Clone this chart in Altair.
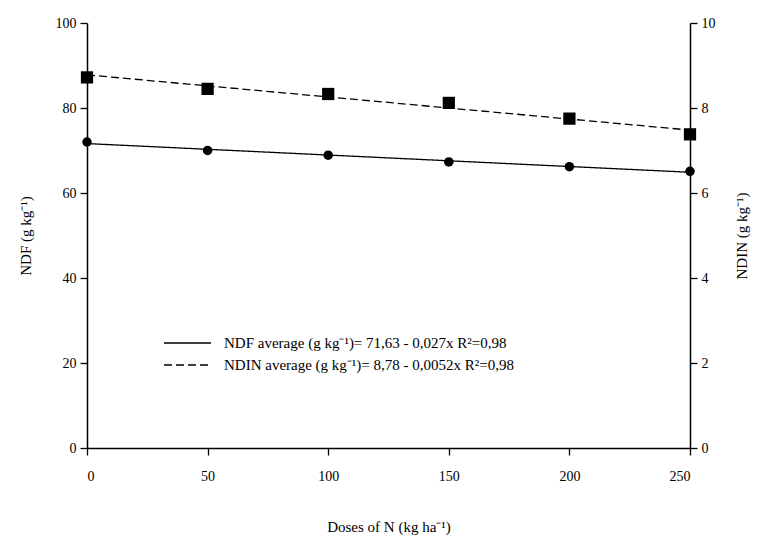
import altair as alt
import pandas as pd

doses = [0, 50, 100, 150, 200, 250]
ndf_obs = [72.0, 70.0, 68.9, 67.3, 66.2, 65.1]
ndin_obs = [8.72, 8.45, 8.33, 8.12, 7.75, 7.38]

fit_x = [0, 250]
ndf_fit = [71.63, 64.88]
ndin_fit = [8.78, 7.48]

lab_ndf = "NDF average (g kg\u207b\u00b9)= 71,63 - 0,027x  R\u00b2=0,98"
lab_ndin = "NDIN average (g kg\u207b\u00b9)= 8,78 - 0,0052x  R\u00b2=0,98"
labels = [lab_ndf, lab_ndin]

left_ticks = [0, 20, 40, 60, 80, 100]
right_ticks = [0, 2, 4, 6, 8, 10]

obs = pd.DataFrame({"dose": doses, "ndf": ndf_obs, "ndin": ndin_obs})
fit_ndf_df = pd.DataFrame({"dose": fit_x, "ndf": ndf_fit, "series": lab_ndf})
fit_ndin_df = pd.DataFrame({"dose": fit_x, "ndin": ndin_fit, "series": lab_ndin})

FONT = "Liberation Serif"

xenc = alt.X(
    "dose:Q",
    scale=alt.Scale(domain=[0, 250], nice=False),
    axis=alt.Axis(values=doses, title="Doses of N (kg ha\u207b\u00b9)", grid=False,
                  labelPadding=14, titlePadding=36),
)

dash = alt.StrokeDash(
    "series:N",
    scale=alt.Scale(domain=labels, range=[[1, 0], [8, 4]]),
    legend=alt.Legend(
        title=None, orient="none", legendX=76, legendY=311,
        symbolType="stroke", symbolSize=2209, symbolStrokeWidth=1.3,
        symbolStrokeColor="black", labelFont=FONT, labelFontSize=15,
        labelColor="black", labelOffset=12, rowPadding=4, clipHeight=18,
        labelLimit=600,
    ),
)

left_axis = alt.Axis(values=left_ticks, title="NDF (g kg\u207b\u00b9)",
                     grid=False, orient="left", titlePadding=22)
right_axis = alt.Axis(values=right_ticks, title="NDIN (g kg\u207b\u00b9)",
                      grid=False, orient="right", titlePadding=34, titleAngle=270)

yl = alt.Y("ndf:Q", scale=alt.Scale(domain=[0, 100], nice=False), axis=left_axis)
yr = alt.Y("ndin:Q", scale=alt.Scale(domain=[0, 10], nice=False), axis=right_axis)

left = alt.layer(
    alt.Chart(fit_ndf_df).mark_line(color="black", strokeWidth=1.3).encode(x=xenc, y=yl, strokeDash=dash),
    alt.Chart(obs).mark_point(shape="circle", filled=True, color="black", size=90, opacity=1).encode(x=xenc, y=yl),
)
right = alt.layer(
    alt.Chart(fit_ndin_df).mark_line(color="black", strokeWidth=1.3).encode(x=xenc, y=yr, strokeDash=dash),
    alt.Chart(obs).mark_point(shape="square", filled=True, color="black", size=150, opacity=1).encode(x=xenc, y=yr),
)

chart = alt.layer(left, right).resolve_scale(y="independent").properties(
    width=603, height=425,
    autosize=alt.AutoSizeParams(type="none"),
    padding={"left": 87, "top": 23, "right": 78, "bottom": 90},
).configure_view(stroke=None).configure_axis(
    labelFont=FONT, titleFont=FONT, labelFontSize=14, titleFontSize=15,
    labelColor="black", titleColor="black", titleFontWeight="normal",
    domainColor="black", tickColor="black", domainWidth=1.5, tickWidth=1.3,
    tickSize=7, labelPadding=4,
)

chart.save("out.html", embed_options={"renderer": "svg", "actions": False})
